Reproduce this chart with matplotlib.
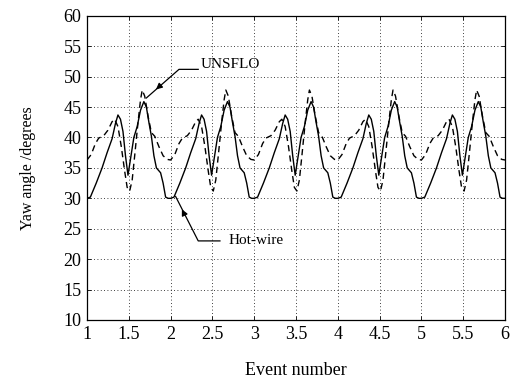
import numpy as np
import matplotlib
matplotlib.use('Agg')
import matplotlib.pyplot as plt

# one event cycle (phase within an event, yaw angle in degrees)
hotwire_phase = [0.00, 0.04, 0.11, 0.18, 0.24, 0.30, 0.34, 0.37, 0.40, 0.43, 0.46, 0.49,
                 0.52, 0.56, 0.60, 0.64, 0.68, 0.71, 0.74, 0.77, 0.80, 0.83, 0.88, 0.91,
                 0.94, 0.97]
hotwire_yaw = [30.0, 30.2, 32.5, 35.0, 37.5, 39.8, 42.3, 43.7, 43.0, 41.0, 37.0, 33.8,
               36.5, 40.0, 41.8, 44.5, 45.9, 45.0, 42.5, 40.2, 37.0, 35.0, 34.2, 32.5,
               30.2, 30.0]

unsflo_phase = [0.00, 0.05, 0.10, 0.14, 0.20, 0.25, 0.30, 0.33, 0.37, 0.41, 0.45, 0.48,
                0.51, 0.54, 0.57, 0.61, 0.64, 0.66, 0.69, 0.73, 0.77, 0.81, 0.86, 0.91,
                0.96]
unsflo_yaw = [36.3, 37.2, 39.0, 39.9, 40.3, 41.2, 42.6, 43.0, 41.8, 38.5, 34.5, 31.8,
              31.2, 33.0, 37.0, 42.5, 46.2, 47.8, 46.8, 43.5, 40.8, 40.2, 38.5, 37.0,
              36.4]

# the same cycle is shown for each event
events = [1, 2, 3, 4, 5]

xticks = [1, 1.5, 2, 2.5, 3, 3.5, 4, 4.5, 5, 5.5, 6]
xtick_labels = ['1', '1.5', '2', '2.5', '3', '3.5', '4', '4.5', '5', '5.5', '6']
yticks = [10, 15, 20, 25, 30, 35, 40, 45, 50, 55, 60]


def repeat_cycle(phase, values):
    x = np.concatenate([np.array(phase) + e for e in events] + [[events[-1] + 1]])
    y = np.concatenate([np.array(values) for e in events] + [[values[0]]])
    return x, y


plt.rcParams['font.family'] = ['Liberation Serif', 'DejaVu Serif']
plt.rcParams['font.size'] = 11

fig = plt.figure(figsize=(5.18, 3.86), dpi=100)
ax = fig.add_axes([0.168, 0.171, 0.807, 0.788])

hx, hy = repeat_cycle(hotwire_phase, hotwire_yaw)
ux, uy = repeat_cycle(unsflo_phase, unsflo_yaw)

ax.plot(hx, hy, color='black', linewidth=1.0, linestyle='-')
ax.plot(ux, uy, color='black', linewidth=1.0, linestyle=(0, (4.5, 3)))

ax.set_xlim(1, 6)
ax.set_ylim(10, 60)
ax.set_xticks(xticks)
ax.set_xticklabels(xtick_labels)
ax.set_yticks(yticks)
ax.grid(True, color='black', linestyle=(0, (1, 3)), linewidth=0.6)
ax.tick_params(direction='in', top=True, right=True, length=3, width=0.6,
               labelsize=13, pad=4)
for s in ax.spines.values():
    s.set_linewidth(0.9)

ax.set_xlabel('Event number', fontsize=13, labelpad=14)
ax.set_ylabel('Yaw angle /degrees', fontsize=11.5, labelpad=20)

# UNSFLO label with leader line
ax.plot([2.33, 2.10, 1.71], [51.2, 51.2, 46.5], color='black', linewidth=0.9)
ax.annotate('', xy=(1.80, 47.6), xytext=(1.90, 48.8),
            arrowprops=dict(arrowstyle='-|>', color='black', lw=0.9,
                            mutation_scale=9))
ax.text(2.36, 52.0, 'UNSFLO', va='center', ha='left', fontsize=11)

# Hot-wire label with leader line
ax.plot([2.59, 2.33, 2.06], [23.0, 23.0, 30.3], color='black', linewidth=0.9)
ax.annotate('', xy=(2.12, 28.6), xytext=(2.17, 27.2),
            arrowprops=dict(arrowstyle='-|>', color='black', lw=0.9,
                            mutation_scale=9))
ax.text(2.69, 23.1, 'Hot-wire', va='center', ha='left', fontsize=11)

fig.savefig('out.png', dpi=100)
